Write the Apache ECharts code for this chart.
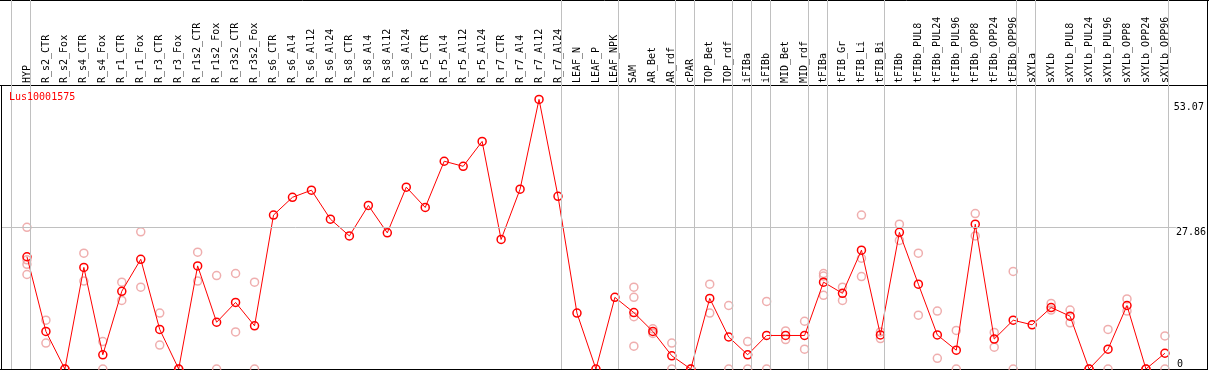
<!DOCTYPE html>
<html><head><meta charset="utf-8">
<script src="https://cdn.jsdelivr.net/npm/echarts@6/dist/echarts.min.js"></script>
<style>html,body{margin:0;padding:0;background:#fff}#c{width:1209px;height:370px}</style>
</head><body><div id="c"></div>
<script>
const chartTitle = 'Lus10001575';
const categories = ['HYP','R_s2_CTR','R_s2_Fox','R_s4_CTR','R_s4_Fox','R_r1_CTR','R_r1_Fox','R_r3_CTR','R_r3_Fox','R_r1s2_CTR','R_r1s2_Fox','R_r3s2_CTR','R_r3s2_Fox','R_s6_CTR','R_s6_Al4','R_s6_Al12','R_s6_Al24','R_s8_CTR','R_s8_Al4','R_s8_Al12','R_s8_Al24','R_r5_CTR','R_r5_Al4','R_r5_Al12','R_r5_Al24','R_r7_CTR','R_r7_Al4','R_r7_Al12','R_r7_Al24','LEAF_N','LEAF_P','LEAF_NPK','SAM','AR_Bet','AR_rdf','cPAR','TOP_Bet','TOP_rdf','iFIBa','iFIBb','MID_Bet','MID_rdf','tFIBa','tFIB_Gr','tFIB_Li','tFIB_Bi','tFIBb','tFIBb_PUL8','tFIBb_PUL24','tFIBb_PUL96','tFIBb_OPP8','tFIBb_OPP24','tFIBb_OPP96','sXYLa','sXYLb','sXYLb_PUL8','sXYLb_PUL24','sXYLb_PUL96','sXYLb_OPP8','sXYLb_OPP24','sXYLb_OPP96'];
const meanValues = [22.1,7.4,0,20.0,2.8,15.3,21.6,7.8,0,20.3,9.2,13.1,8.5,30.3,33.8,35.2,29.5,26.2,32.2,26.8,35.8,31.8,40.9,39.9,44.8,25.5,35.4,53.07,34.0,11.0,0,14.1,11.1,7.4,2.6,0,13.9,6.3,2.8,6.6,6.6,6.6,17.1,14.9,23.4,6.7,26.9,16.7,6.7,3.7,28.5,5.9,9.6,8.7,12.1,10.4,0,3.9,12.5,0,3.1];
const replicate1 = [27.9,9.6,0,22.8,5.4,17.1,27.0,11.0,0,23.0,18.4,18.8,17.1,null,null,null,null,null,null,null,null,null,null,null,null,null,null,null,null,null,null,null,16.1,7.9,5.1,0,16.7,12.5,5.4,13.3,7.5,9.4,18.8,16.1,30.3,7.3,28.5,22.8,11.4,7.6,30.6,7.2,19.2,null,12.9,11.6,0,7.8,13.8,0,6.5];
const replicate2 = [21.5,5.1,0,17.3,0,13.5,16.1,4.7,0,17.3,0,7.3,0,null,null,null,null,null,null,null,null,null,null,null,null,null,null,null,null,null,null,null,14.1,7.0,0,0,11.0,0,0,0,5.8,3.9,18.3,13.5,21.8,6.0,25.3,10.6,2.1,0,26.2,4.3,0,null,11.6,9.1,0,0,11.4,0,0];
const replicate3 = [20.6,null,null,null,null,null,null,null,null,null,null,null,null,null,null,null,null,null,null,null,null,null,null,null,null,null,null,null,null,null,null,null,10.3,null,null,null,null,null,null,null,null,null,14.5,null,18.2,null,null,null,null,null,null,null,null,null,null,null,null,null,null,null,null];
const replicate4 = [18.6,null,null,null,null,null,null,null,null,null,null,null,null,null,null,null,null,null,null,null,null,null,null,null,null,null,null,null,null,null,null,null,4.5,null,null,null,null,null,null,null,null,null,null,null,null,null,null,null,null,null,null,null,null,null,null,null,null,null,null,null,null];
const yTickValues = [0, 27.86, 53.07];
const yTickLabels = ['0', '27.86', '53.07'];
const gridLineValues = [27.86];
// index of the last category of each group (separators drawn after them)
const groupEnds = [-1, 0, 28, 31, 34, 35, 37, 38, 39, 41, 42, 45, 52, 53, 60];

const FONT = 'DejaVu Sans Mono';
const Y_MAX = 72.64;
const labelStyles = [
  {align:'left', verticalAlign:'bottom', margin:1, padding:[0,0,0,0]},
  {align:'left', verticalAlign:'top', margin:0, padding:[0,0,0,0]},
  {align:'right', verticalAlign:'top', margin:28, padding:[3,0,0,0]}
];

const replicateData = [];
[replicate1, replicate2, replicate3, replicate4].forEach(arr => {
  arr.forEach((v, i) => { if (v !== null) replicateData.push([i, v]); });
});

const yAxes = [{type:'value', min:0, max:Y_MAX, show:false}];
yTickValues.forEach((v, k) => {
  const s = labelStyles[k];
  yAxes.push({
    type:'value', min:0, max:Y_MAX, position:'right',
    axisLine:{show:false}, axisTick:{show:false}, splitLine:{show:false},
    axisLabel:{customValues:[v], formatter:() => yTickLabels[k], color:'#000',
      fontFamily:FONT, fontSize:10, align:s.align, verticalAlign:s.verticalAlign,
      margin:s.margin, padding:s.padding}
  });
});

const chart = echarts.init(document.getElementById('c'), null, {renderer:'canvas'});
chart.setOption({
  animation:false,
  backgroundColor:'#fff',
  title:{text:chartTitle, left:9, top:92, padding:0,
    textStyle:{color:'#ff0000', fontSize:10, fontFamily:FONT, fontWeight:'normal'}},
  grid:{left:2, right:31, top:0, bottom:1, containLabel:false},
  xAxis:{type:'value', min:-25/19, max:1151/19, position:'top', offset:-85,
    axisLine:{show:false}, axisTick:{show:false}, splitLine:{show:false},
    axisLabel:{customValues:categories.map((c, i) => i), formatter:v => categories[Math.round(v)],
      rotate:90, margin:2, color:'#000', fontFamily:FONT, fontSize:10, padding:[0,0,4,0]}},
  yAxis:yAxes,
  graphic:[
    {type:'line', silent:true, shape:{x1:0, y1:0.5, x2:1209, y2:0.5}, style:{stroke:'#000', lineWidth:1}},
    {type:'line', silent:true, shape:{x1:0, y1:85.5, x2:1208, y2:85.5}, style:{stroke:'#000', lineWidth:1}},
    {type:'line', silent:true, shape:{x1:1.5, y1:85, x2:1.5, y2:370}, style:{stroke:'#000', lineWidth:1}},
    {type:'line', silent:true, shape:{x1:1207.5, y1:0, x2:1207.5, y2:370}, style:{stroke:'#000', lineWidth:1}},
    {type:'line', silent:true, shape:{x1:0, y1:369.5, x2:1208, y2:369.5}, style:{stroke:'#000', lineWidth:1}}
  ],
  series:[
    {type:'line', data:[], z:1, silent:true,
      markLine:{silent:true, symbol:['none','none'], label:{show:false},
        lineStyle:{color:'#c0c0c0', width:1, type:'solid'},
        emphasis:{disabled:true},
        data:groupEnds.map(g => ({xAxis:g + 0.184})).concat(gridLineValues.map(v => ({yAxis:v})))}},
    {type:'scatter', data:replicateData, symbol:'circle', symbolSize:8, z:2,
      itemStyle:{color:'transparent', borderColor:'#eb9a9a', borderWidth:1.5}},
    {type:'line', data:meanValues.map((v, i) => [i, v]), symbol:'circle', symbolSize:8, showAllSymbol:true, z:3,
      lineStyle:{color:'#ff0000', width:1}, clip:false,
      itemStyle:{color:'transparent', borderColor:'#ff0000', borderWidth:1.5}}
  ]
});
</script></body></html>
